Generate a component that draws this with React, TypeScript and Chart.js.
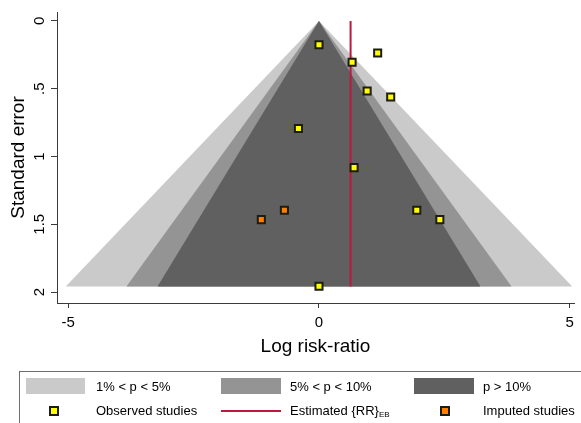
import React, { useEffect, useRef } from "react";
import { Chart, registerables } from "chart.js";

Chart.register(...registerables);

// ---- data ----
const xTicks = [-5, 0, 5];
const yTicks = [0, 0.5, 1, 1.5, 2];
const yTickLabels = ["0", ".5", "1", "1.5", "2"];

const observedLogRR = [0.0, 1.17, 0.66, 0.96, 1.43, -0.41, 0.7, 1.95, 2.41, 0.0];
const observedSE = [0.175, 0.236, 0.305, 0.517, 0.561, 0.793, 1.082, 1.397, 1.466, 1.958];

const imputedLogRR = [-0.69, -1.15];
const imputedSE = [1.397, 1.466];

const estimateLogRR = 0.63;
const funnelMaxSE = 1.96;

// half-widths of the contour regions at the funnel base (1%, 5%, 10% limits)
const contourHalfWidths = [5.05, 3.84, 3.22];
const contourLabels = ["1% < p < 5%", "5% < p < 10%", "p > 10%"];
const contourColors = ["#cacaca", "#949494", "#606060"];

const seriesLabels = ["Observed studies", "Estimated {RR}", "Imputed studies"];

const FONT = "'Liberation Sans', Arial, Helvetica, sans-serif";
const YELLOW = "#ffff00";
const ORANGE = "#ff7f00";
const MARK_BORDER = "#1c1c10";
const LINE_RED = "#b81a40";
const AXIS = "#3a3a3a";

const yTickPlugin = {
  id: "yTickLabels",
  afterDraw(chart: any) {
    const s = chart.scales.y;
    const ctx = chart.ctx;
    ctx.save();
    ctx.font = `15px ${FONT}`;
    ctx.fillStyle = "#000";
    ctx.textAlign = "center";
    ctx.textBaseline = "middle";
    yTicks.forEach((v, i) => {
      const py = s.getPixelForValue(v);
      ctx.save();
      ctx.translate(39.5, py);
      ctx.rotate(-Math.PI / 2);
      ctx.fillText(yTickLabels[i], 0, 0);
      ctx.restore();
    });
    ctx.restore();
  },
};

function Marker({ cx, cy, color }: { cx: number; cy: number; color: string }) {
  return (
    <div
      style={{
        position: "absolute",
        left: cx - 5,
        top: cy - 5,
        width: 6,
        height: 6,
        background: color,
        border: `2px solid ${MARK_BORDER}`,
      }}
    />
  );
}

function LegendText({ x, cy, children }: { x: number; cy: number; children: any }) {
  return (
    <div
      style={{
        position: "absolute",
        left: x,
        top: cy - 9,
        height: 18,
        lineHeight: "18px",
        fontSize: 13,
        fontFamily: FONT,
        color: "#000",
        whiteSpace: "nowrap",
      }}
    >
      {children}
    </div>
  );
}

export default function App() {
  const ref = useRef<HTMLCanvasElement | null>(null);

  useEffect(() => {
    if (!ref.current) return;
    const funnel = (hw: number) => [
      { x: -hw, y: funnelMaxSE },
      { x: 0, y: 0 },
      { x: hw, y: funnelMaxSE },
    ];
    const chart = new Chart(ref.current, {
      type: "line",
      data: {
        datasets: [
          {
            label: seriesLabels[0],
            data: observedLogRR.map((x, i) => ({ x, y: observedSE[i] })),
            showLine: false,
            pointStyle: "rect",
            pointRadius: 5,
            pointBorderWidth: 2,
            pointBackgroundColor: YELLOW,
            pointBorderColor: MARK_BORDER,
            order: 0,
          } as any,
          {
            label: seriesLabels[2],
            data: imputedLogRR.map((x, i) => ({ x, y: imputedSE[i] })),
            showLine: false,
            pointStyle: "rect",
            pointRadius: 5,
            pointBorderWidth: 2,
            pointBackgroundColor: ORANGE,
            pointBorderColor: MARK_BORDER,
            order: 1,
          },
          {
            label: seriesLabels[1],
            data: [
              { x: estimateLogRR, y: 0 },
              { x: estimateLogRR, y: funnelMaxSE },
            ],
            borderColor: LINE_RED,
            borderWidth: 2,
            pointRadius: 0,
            fill: false,
            order: 2,
          },
          {
            label: contourLabels[2],
            data: funnel(contourHalfWidths[2]),
            borderWidth: 0,
            borderColor: "rgba(0,0,0,0)",
            backgroundColor: contourColors[2],
            pointRadius: 0,
            fill: { value: funnelMaxSE },
            order: 3,
          },
          {
            label: contourLabels[1],
            data: funnel(contourHalfWidths[1]),
            borderWidth: 0,
            borderColor: "rgba(0,0,0,0)",
            backgroundColor: contourColors[1],
            pointRadius: 0,
            fill: { value: funnelMaxSE },
            order: 4,
          },
          {
            label: contourLabels[0],
            data: funnel(contourHalfWidths[0]),
            borderWidth: 0,
            borderColor: "rgba(0,0,0,0)",
            backgroundColor: contourColors[0],
            pointRadius: 0,
            fill: { value: funnelMaxSE },
            order: 5,
          },
        ],
      },
      options: {
        animation: false,
        responsive: false,
        devicePixelRatio: 1,
        layout: { padding: { top: 12, right: 0, left: 0, bottom: 0 } },
        plugins: {
          legend: { display: false },
          tooltip: { enabled: false },
          title: { display: false },
        },
        elements: { line: { tension: 0 } },
        scales: {
          x: {
            type: "linear",
            min: -5.224,
            max: 5.085,
            afterBuildTicks: (s: any) => {
              s.ticks = xTicks.map((v) => ({ value: v }));
            },
            afterFit: (s: any) => {
              s.height = 120;
              s.paddingLeft = 0;
              s.paddingRight = 0;
            },
            grid: {
              display: true,
              drawOnChartArea: false,
              drawTicks: true,
              tickLength: 5,
              color: AXIS,
            },
            border: { display: true, color: AXIS, width: 1 },
            ticks: {
              color: "#000",
              font: { family: FONT, size: 15 },
              padding: 6,
              maxRotation: 0,
              callback: (v: any) => String(v),
            },
            title: {
              display: true,
              text: "Log risk-ratio",
              color: "#000",
              font: { family: FONT, size: 19 },
              padding: { top: 0, bottom: 65 },
            },
          },
          y: {
            type: "linear",
            reverse: true,
            min: -0.066,
            max: 2.081,
            afterBuildTicks: (s: any) => {
              s.ticks = yTicks.map((v) => ({ value: v }));
            },
            afterFit: (s: any) => {
              s.width = 57;
              s.paddingTop = 0;
              s.paddingBottom = 0;
            },
            grid: {
              display: true,
              drawOnChartArea: false,
              drawTicks: true,
              tickLength: 6,
              color: AXIS,
            },
            border: { display: true, color: AXIS, width: 1 },
            ticks: { display: false },
            title: {
              display: true,
              text: "Standard error",
              color: "#000",
              font: { family: FONT, size: 19 },
              padding: { top: 7.5, bottom: 0 },
            },
          },
        },
      },
      plugins: [yTickPlugin],
    });
    return () => chart.destroy();
  }, []);

  const row1 = 386.5;
  const row2 = 410.7;

  return (
    <div
      style={{
        position: "fixed",
        left: 0,
        top: 0,
        width: 581,
        height: 423,
        overflow: "hidden",
        background: "#fff",
      }}
    >
      <canvas ref={ref} width={581} height={423} style={{ display: "block", position: "absolute", left: 0, top: 0 }} />
      <div
        style={{
          position: "absolute",
          left: 19,
          top: 371,
          width: 600,
          height: 100,
          border: "1px solid #6e6e6e",
          boxSizing: "border-box",
        }}
      />
      <div style={{ position: "absolute", left: 26, top: 378, width: 59, height: 16, background: contourColors[0] }} />
      <LegendText x={96} cy={row1}>{contourLabels[0]}</LegendText>
      <div style={{ position: "absolute", left: 221, top: 378, width: 60, height: 16, background: contourColors[1] }} />
      <LegendText x={290} cy={row1}>{contourLabels[1]}</LegendText>
      <div style={{ position: "absolute", left: 414, top: 378, width: 60, height: 16, background: contourColors[2] }} />
      <LegendText x={483} cy={row1}>{contourLabels[2]}</LegendText>

      <Marker cx={53.5} cy={row2} color={YELLOW} />
      <LegendText x={96} cy={row2}>{seriesLabels[0]}</LegendText>
      <div style={{ position: "absolute", left: 221, top: row2 - 1, width: 60, height: 2, background: LINE_RED }} />
      <LegendText x={290} cy={row2}>
        {seriesLabels[1]}
        <span style={{ fontSize: 8, verticalAlign: "-2px" }}>EB</span>
      </LegendText>
      <Marker cx={445} cy={row2} color={ORANGE} />
      <LegendText x={483} cy={row2}>{seriesLabels[2]}</LegendText>
    </div>
  );
}
